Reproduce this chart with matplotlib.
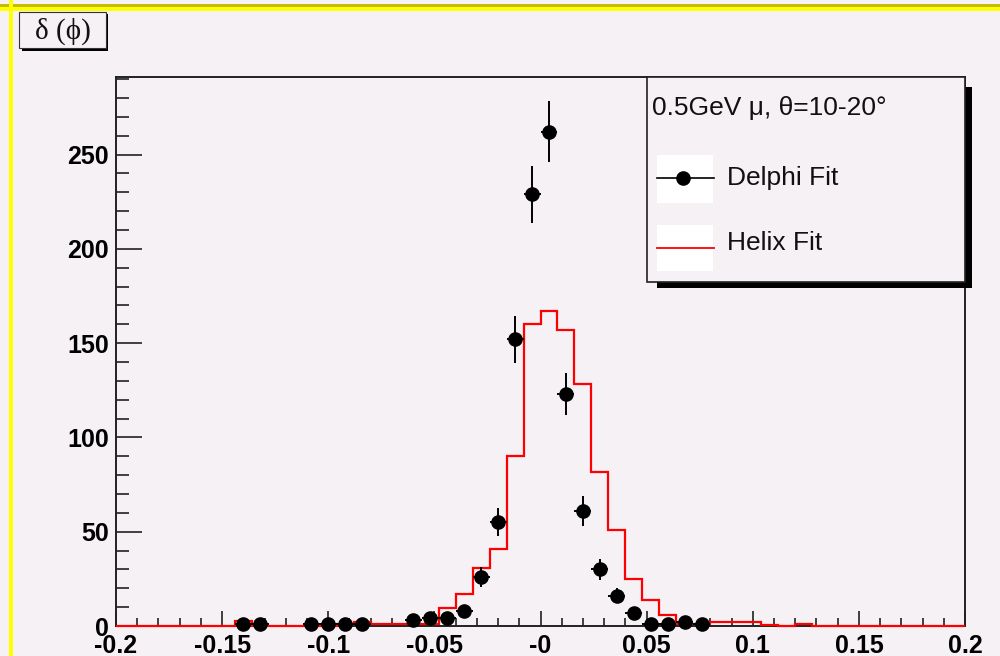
import numpy as np
import matplotlib
matplotlib.use("Agg")
import matplotlib.pyplot as plt
from matplotlib.patches import Rectangle
from matplotlib.lines import Line2D
from matplotlib.ticker import MultipleLocator, FixedLocator, FixedFormatter

# binning: 50 bins over [-0.2, 0.2]
binEdges = np.linspace(-0.2, 0.2, 51)

# Helix fit histogram contents, one value per bin
helixCounts = [
    0, 0, 0, 0, 0, 0, 0, 2.5, 0, 0,
    0, 0, 0, 1, 2, 1, 1, 1, 1, 9.5,
    17, 30.5, 41, 90, 160, 167, 157, 128.5, 81.5, 51,
    25, 14, 6, 1, 1, 2, 2, 2, 0.5, 0,
    1, 0, 0, 0, 0, 0, 0, 0, 0, 0,
]

# Delphi fit: bin centres with non-empty contents
delphiX = [-0.140, -0.132, -0.108, -0.100, -0.092, -0.084, -0.060, -0.052,
           -0.044, -0.036, -0.028, -0.020, -0.012, -0.004, 0.004, 0.012,
           0.020, 0.028, 0.036, 0.044, 0.052, 0.060, 0.068, 0.076]
delphiCounts = [1, 1, 1, 1, 1, 1, 3, 4,
                4, 8, 26, 55, 152, 229, 262, 123,
                61, 30, 16, 7, 1, 1, 2, 1]

xTickVals = [-0.2, -0.15, -0.1, -0.05, 0.0, 0.05, 0.1, 0.15, 0.2]
xTickLabels = ["-0.2", "-0.15", "-0.1", "-0.05", "-0", "0.05", "0.1", "0.15", "0.2"]
yTickVals = [0, 50, 100, 150, 200, 250]

histTitle = "\u03b4 (\u03d5)"
legendHeader = "0.5GeV \u03bc, \u03b8=10-20\u00b0"
legendLabels = ["Delphi Fit", "Helix Fit"]

bg = "#f5f1f5"
plt.rcParams["font.family"] = ["Liberation Sans", "DejaVu Sans"]

fig = plt.figure(figsize=(10, 6.56), dpi=100, facecolor=bg)
ax = fig.add_axes([0.116, 30 / 656, 0.849, 549.3 / 656])
ax.set_facecolor(bg)

ax.stairs(helixCounts, binEdges, color="#ff0000", linewidth=1.6, zorder=3, clip_on=False)

binHalf = (binEdges[1] - binEdges[0]) / 2
ax.errorbar(delphiX, delphiCounts, yerr=np.sqrt(delphiCounts), xerr=binHalf,
            fmt="o", color="black", markersize=9.5, elinewidth=1.4, capsize=0,
            zorder=4, clip_on=False)

ax.set_xlim(-0.2, 0.2)
ax.set_ylim(0, 291.3)

ax.xaxis.set_major_locator(FixedLocator(xTickVals))
ax.xaxis.set_major_formatter(FixedFormatter(xTickLabels))
ax.xaxis.set_minor_locator(MultipleLocator(0.01))
ax.yaxis.set_major_locator(FixedLocator(yTickVals))
ax.yaxis.set_minor_locator(MultipleLocator(10))

ax.tick_params(axis="x", which="major", direction="in", length=11, width=1.2,
               color="#222222", pad=6, labelsize=18)
ax.tick_params(axis="x", which="minor", direction="in", length=6, width=1.2, color="#222222")
ax.tick_params(axis="y", which="major", direction="in", length=18.5, width=1.2,
               color="#222222", pad=5, labelsize=18)
ax.tick_params(axis="y", which="minor", direction="in", length=9.5, width=1.2, color="#222222")
for lbl in ax.get_xticklabels() + ax.get_yticklabels():
    lbl.set_fontweight("bold")
for sp in ax.spines.values():
    sp.set_color("#222222")
    sp.set_linewidth(1.4)

# overlay in pixel coordinates for the canvas decorations, title and legend
ov = fig.add_axes([0, 0, 1, 1], zorder=10)
ov.set_xlim(0, 1000)
ov.set_ylim(656, 0)
ov.axis("off")
ov.patch.set_alpha(0)

# canvas border
ov.add_patch(Rectangle((0, 4), 1000, 3.2, color="#c4bc00", lw=0))
ov.add_patch(Rectangle((0, 7.2), 1000, 3.8, color="#ffff00", lw=0))
ov.add_patch(Rectangle((9.3, 0), 3.4, 656, color="#ffff00", lw=0))

# title box with shadow
ov.add_patch(Rectangle((21.5, 14), 86.5, 36.5, facecolor="black", lw=0))
ov.add_patch(Rectangle((19.3, 11.7), 86.5, 36.5, facecolor=bg, edgecolor="#333333", lw=0.8))
ov.text(62.5, 31, histTitle, ha="center", va="center", fontsize=21,
        family=["Liberation Serif", "DejaVu Serif"], color="#111111")

# legend box with shadow
lx0, ly0, lx1, ly1 = 646.7, 76.7, 965, 281.7
ov.add_patch(Rectangle((lx0 + 10, ly0 + 10), lx1 - lx0 - 3.3, ly1 - ly0 - 3.3,
                       facecolor="black", lw=0))
ov.add_patch(Rectangle((lx0, ly0), lx1 - lx0, ly1 - ly0, facecolor=bg,
                       edgecolor="#222222", lw=1.2))
ov.text(652, 108, legendHeader, ha="left", va="center", fontsize=19, color="#111111")

ov.add_patch(Rectangle((656.7, 155), 56, 47.7, facecolor="white", lw=0))
ov.add_patch(Rectangle((656.7, 225), 56, 45.7, facecolor="white", lw=0))
ov.add_line(Line2D([656.7, 714], [178, 178], color="black", lw=1.2))
ov.add_line(Line2D([682.5], [178], marker="o", markersize=9.5, color="black"))
ov.add_line(Line2D([656.7, 714], [247.5, 247.5], color="#ff0000", lw=1.3))
ov.text(726.7, 178, legendLabels[0], ha="left", va="center", fontsize=19, color="#111111")
ov.text(726.7, 243, legendLabels[1], ha="left", va="center", fontsize=19, color="#111111")

fig.savefig("out.png", dpi=100, facecolor=bg)
